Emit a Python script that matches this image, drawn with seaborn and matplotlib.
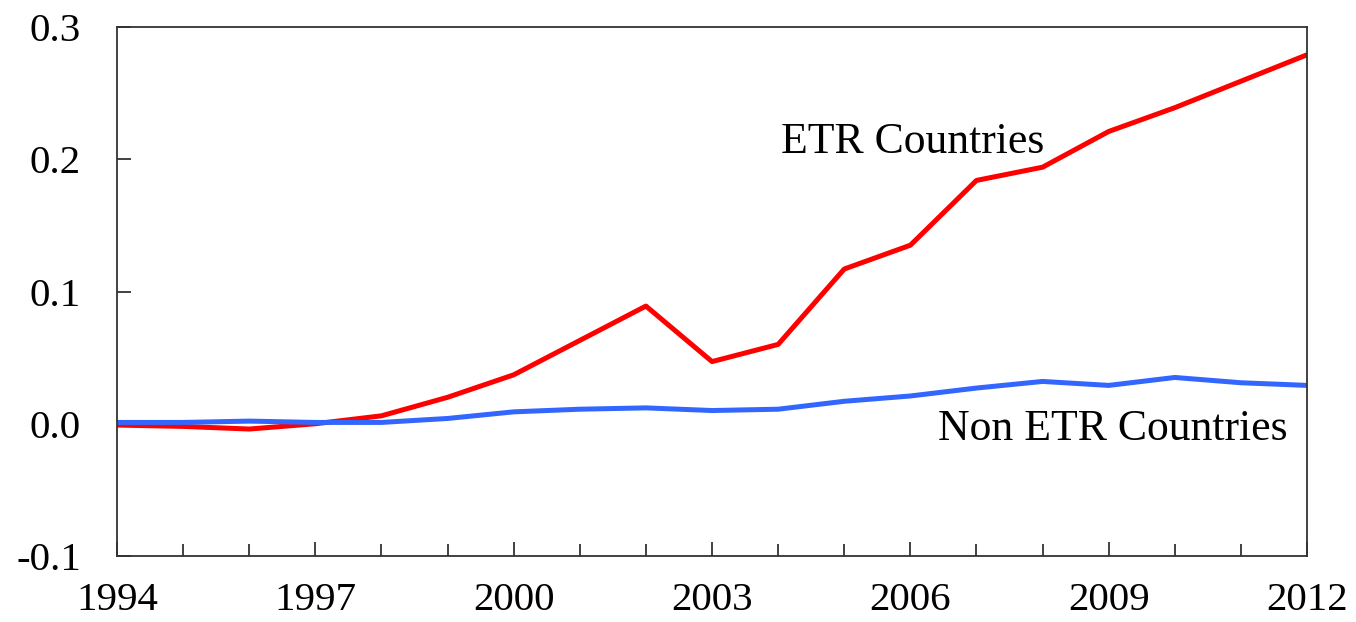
import numpy as np
import pandas as pd
import matplotlib
matplotlib.use('Agg')
import matplotlib.pyplot as plt
from matplotlib.ticker import FixedLocator, MultipleLocator, FormatStrFormatter
import seaborn as sns

years = list(range(1994, 2013))
etr = [-0.001, -0.002, -0.004, 0.000, 0.006, 0.020, 0.037, 0.063, 0.089, 0.047,
       0.060, 0.117, 0.135, 0.184, 0.194, 0.221, 0.239, 0.259, 0.279]
non_etr = [0.001, 0.001, 0.002, 0.001, 0.001, 0.004, 0.009, 0.011, 0.012, 0.010,
           0.011, 0.017, 0.021, 0.027, 0.032, 0.029, 0.035, 0.031, 0.029]
labeled_years = list(range(1994, 2013, 3))

df = pd.DataFrame({
    'year': years * 2,
    'value': etr + non_etr,
    'group': ['ETR Countries'] * len(years) + ['Non ETR Countries'] * len(years),
})

sns.set_style('ticks')
plt.rcParams['font.family'] = ['Liberation Serif', 'DejaVu Serif']
plt.rcParams['axes.unicode_minus'] = False
plt.rcParams['text.color'] = 'black'
plt.rcParams['xtick.labelcolor'] = 'black'
plt.rcParams['ytick.labelcolor'] = 'black'

fig = plt.figure(figsize=(13.56, 6.22), dpi=100)
ax = fig.add_axes([0.0863, 0.1061, 0.8776, 0.8505])

colors = {'ETR Countries': '#ff0000', 'Non ETR Countries': '#3366ff'}
sns.lineplot(data=df, x='year', y='value', hue='group', palette=colors,
             linewidth=3.6, legend=False, ax=ax)

ax.set_xlim(1994, 2012)
ax.set_ylim(-0.1, 0.3)
ax.xaxis.set_major_locator(FixedLocator(labeled_years))
ax.xaxis.set_minor_locator(MultipleLocator(1))
ax.yaxis.set_major_locator(MultipleLocator(0.1))
ax.yaxis.set_major_formatter(FormatStrFormatter('%.1f'))

ax.tick_params(axis='x', which='major', direction='in', length=10, width=1.3,
               color='#333333', labelsize=29.5, pad=19)
ax.tick_params(axis='x', which='minor', direction='in', length=8.5, width=1.3,
               color='#333333')
ax.tick_params(axis='y', direction='in', length=10, width=1.3, color='#333333',
               labelsize=29.5, pad=26)

for sp in ax.spines.values():
    sp.set_color('#333333')
    sp.set_linewidth(1.3)

ax.set_xlabel('')
ax.set_ylabel('')

ax.text(2006.04, 0.213, 'ETR Countries', fontsize=31.5, ha='center', va='center')
ax.text(2009.06, -0.004, 'Non ETR Countries', fontsize=31.5, ha='center', va='center')

fig.savefig('out.png', dpi=100)
